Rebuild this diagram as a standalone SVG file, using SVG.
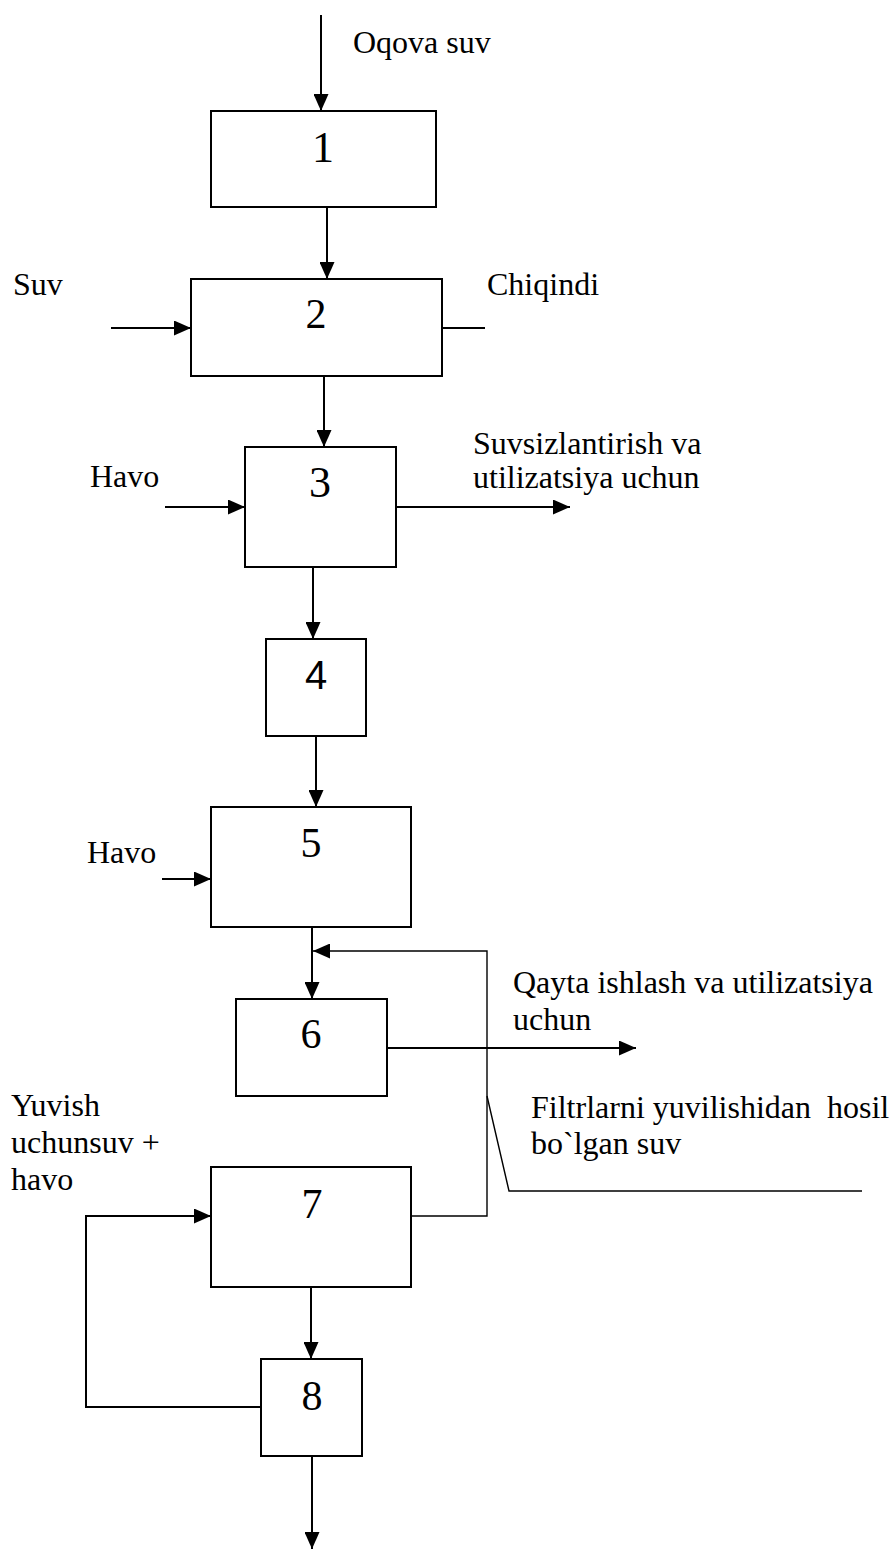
<svg xmlns="http://www.w3.org/2000/svg" width="891" height="1549" viewBox="0 0 891 1549">
<style>
.box{fill:#fff;stroke:#000;stroke-width:2}
.ln{fill:none;stroke:#000;stroke-width:2}
.thin{fill:none;stroke:#000;stroke-width:1.4}
.lbl{font-family:"Liberation Serif","Times New Roman",serif;font-size:32px;fill:#000}
.num{font-family:"Liberation Serif","Times New Roman",serif;font-size:42px;fill:#000;text-anchor:middle}
.big{font-size:44px}
.sans{font-family:"Liberation Sans",Arial,sans-serif;font-size:40px}
</style>
<defs>
<marker id="arr" markerUnits="userSpaceOnUse" markerWidth="17" markerHeight="15" refX="17" refY="7.5" orient="auto">
<path d="M0,0 L17,7.5 L0,15 z" fill="#000"/>
</marker>
</defs>
<rect width="891" height="1549" fill="#fff"/>
<g id="connectors">
<path class="ln" d="M321,15 V111" marker-end="url(#arr)"/>
<path class="ln" d="M327,207 V279" marker-end="url(#arr)"/>
<path class="ln" d="M111,328 H191" marker-end="url(#arr)"/>
<path class="ln" d="M437,328 H485"/>
<path class="ln" d="M324,376 V447" marker-end="url(#arr)"/>
<path class="ln" d="M165,507 H245" marker-end="url(#arr)"/>
<path class="ln" d="M396,507 H570" marker-end="url(#arr)"/>
<path class="ln" d="M313,567 V639" marker-end="url(#arr)"/>
<path class="ln" d="M316,736 V807" marker-end="url(#arr)"/>
<path class="ln" d="M162,879 H211" marker-end="url(#arr)"/>
<path class="ln" d="M312,927 V999" marker-end="url(#arr)"/>
<path class="thin" d="M411,1216 H487 V951 H313" marker-end="url(#arr)"/>
<path class="ln" d="M387,1048 H636" marker-end="url(#arr)"/>
<path class="thin" d="M487,1096 L509,1191 H862"/>
<path class="ln" d="M311,1287 V1359" marker-end="url(#arr)"/>
<path class="ln" d="M261,1407 H86 V1216 H211" marker-end="url(#arr)"/>
<path class="ln" d="M312,1456 V1549" marker-end="url(#arr)"/>
</g>
<g id="node1"><rect class="box" x="211" y="111" width="225" height="96"/><text class="num big" x="323" y="162">1</text></g>
<g id="node2"><rect class="box" x="191" y="279" width="251" height="97"/><text class="num" x="316" y="328">2</text></g>
<g id="node3"><rect class="box" x="245" y="447" width="151" height="120"/><text class="num big" x="320" y="497">3</text></g>
<g id="node4"><rect class="box" x="266" y="639" width="100" height="97"/><text class="num sans" x="316" y="689">4</text></g>
<g id="node5"><rect class="box" x="211" y="807" width="200" height="120"/><text class="num" x="311" y="857">5</text></g>
<g id="node6"><rect class="box" x="236" y="999" width="151" height="97"/><text class="num" x="311" y="1048">6</text></g>
<g id="node7"><rect class="box" x="211" y="1167" width="200" height="120"/><text class="num" x="312" y="1218">7</text></g>
<g id="node8"><rect class="box" x="261" y="1359" width="101" height="97"/><text class="num" x="312" y="1410">8</text></g>
<g id="labels">
<text class="lbl" x="353" y="53">Oqova suv</text>
<text class="lbl" x="13" y="295">Suv</text>
<text class="lbl" x="487" y="295">Chiqindi</text>
<text class="lbl" x="90" y="487">Havo</text>
<text class="lbl" x="473" y="454">Suvsizlantirish va</text>
<text class="lbl" x="473" y="488">utilizatsiya uchun</text>
<text class="lbl" x="87" y="863">Havo</text>
<text class="lbl" x="513" y="993">Qayta ishlash va utilizatsiya</text>
<text class="lbl" x="513" y="1030">uchun</text>
<text class="lbl" x="531" y="1118" xml:space="preserve">Filtrlarni yuvilishidan  hosil</text>
<text class="lbl" x="531" y="1154">bo`lgan suv</text>
<text class="lbl" x="11" y="1116">Yuvish</text>
<text class="lbl" x="11" y="1153">uchunsuv +</text>
<text class="lbl" x="11" y="1190">havo</text>
</g>
</svg>
